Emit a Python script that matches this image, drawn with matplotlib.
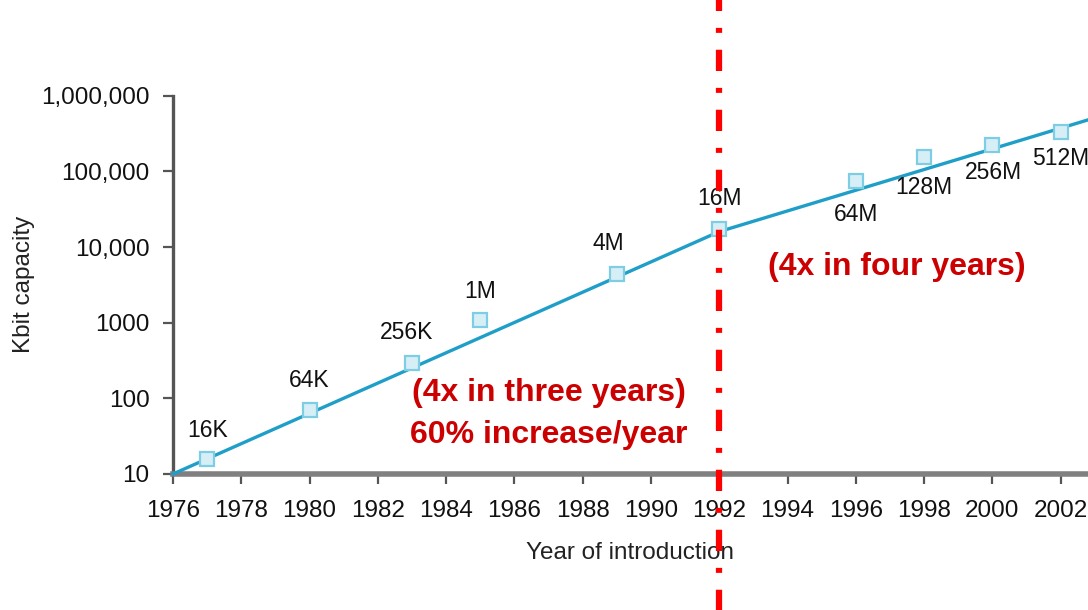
import matplotlib
matplotlib.use("Agg")
import matplotlib.pyplot as plt

plt.rcParams['font.family'] = ['Liberation Sans', 'DejaVu Sans']

# DRAM chips: year of introduction and capacity (Kbit)
years = [1977, 1980, 1983, 1985, 1989, 1992, 1996, 1998, 2000, 2002]
capacity = [16, 70, 290, 1100, 4400, 17500, 75000, 155000, 225000, 330000]
chip_labels = ['16K', '64K', '256K', '1M', '4M', '16M', '64M', '128M', '256M', '512M']
# label offsets (points) from each marker
label_dx = [0, 0, -4, 0, -6, 0, 0, 0, 1, 0]
label_dy = [20, 21, 22, 20, 22, 22, -24, -22, -20, -19]

# trend line drawn through the data
trend_years = [1976, 1992, 2002.8]
trend_vals = [10, 16000, 480000]

ytick_vals = [10, 100, 1000, 10000, 100000, 1000000]
ytick_labels = ['10', '100', '1000', '10,000', '100,000', '1,000,000']
xtick_vals = list(range(1976, 2003, 2))

fig = plt.figure(figsize=(10.88, 6.10), dpi=100)
ax = fig.add_axes([0.159, 0.223, 0.841, 0.62])

ax.plot(trend_years, trend_vals, color='#1f9fc8', lw=2.4, zorder=3, clip_on=False)
ax.plot(years, capacity, ls='none', marker='s', ms=10.5, mfc='#d6eff7', mec='#7fcde3',
        mew=1.6, zorder=4, clip_on=False)

for x, y, t, dx, dy in zip(years, capacity, chip_labels, label_dx, label_dy):
    ax.annotate(t, (x, y), xytext=(dx, dy), textcoords='offset points',
                ha='center', va='center', fontsize=16.5, color='#111111')

ax.set_yscale('log')
ax.set_ylim(10, 1000000)
ax.set_xlim(1976, 2002.8)
ax.set_yticks(ytick_vals)
ax.set_yticklabels(ytick_labels)
ax.minorticks_off()
ax.set_xticks(xtick_vals)
ax.set_xticklabels([str(v) for v in xtick_vals])
ax.tick_params(axis='both', labelsize=17.5, colors='#555555', labelcolor='#111111',
               length=7, width=1.6)
ax.tick_params(axis='x', pad=12)
ax.tick_params(axis='y', pad=10)

for s in ['top', 'right']:
    ax.spines[s].set_visible(False)
ax.spines['left'].set_color('#555555')
ax.spines['left'].set_linewidth(2.4)
ax.spines['bottom'].set_color('#808080')
ax.spines['bottom'].set_linewidth(4)

ax.set_xlabel('Year of introduction', fontsize=17.5, color='#222222', labelpad=14)
ax.set_ylabel('Kbit capacity', fontsize=17.5, color='#222222', labelpad=4)

# red dash-dot divider at 1992 running over the whole figure
ax.axvline(1992, ymin=-0.5, ymax=1.7, color='#ff0000', lw=4.5, clip_on=False,
           dashes=(3.4, 2.7, 0.8, 2.7), zorder=6)

red = '#cc0000'
ax.text(1987.0, 118, '(4x in three years)', color=red, fontsize=23, fontweight='bold',
        ha='center', va='center')
ax.text(1987.0, 33, '60% increase/year', color=red, fontsize=23, fontweight='bold',
        ha='center', va='center')
ax.text(1997.2, 5500, '(4x in four years)', color=red, fontsize=23, fontweight='bold',
        ha='center', va='center')

fig.savefig('out.png', dpi=100)
